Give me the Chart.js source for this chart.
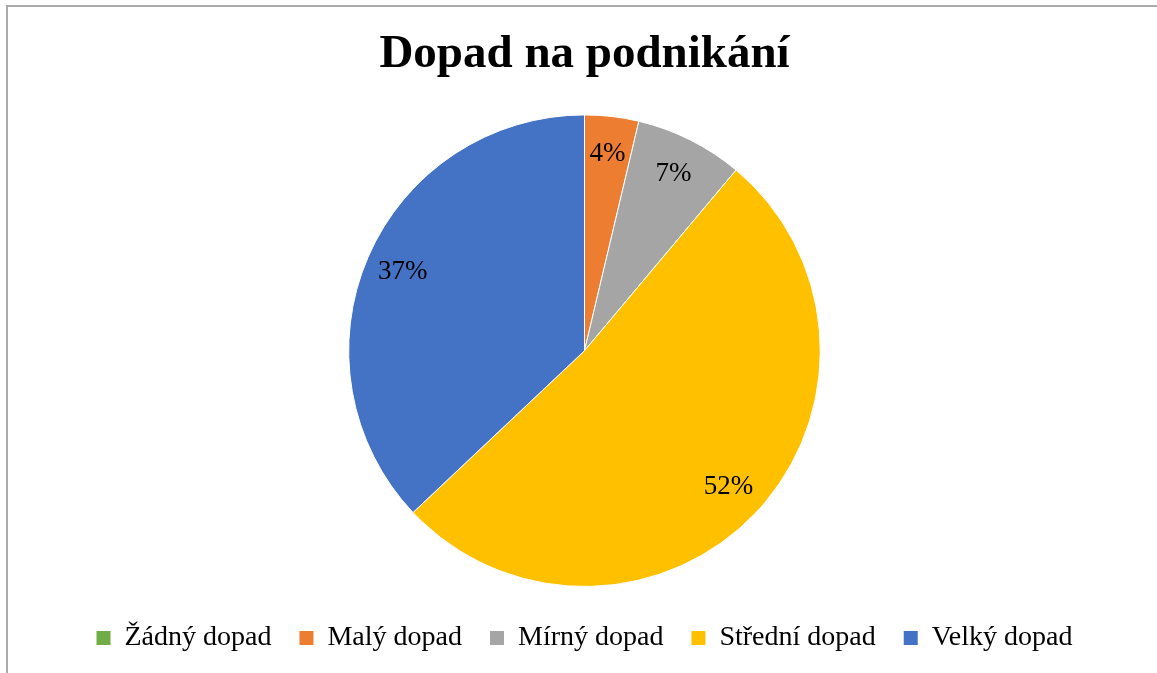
<!DOCTYPE html>
<html>
<head>
<meta charset="utf-8">
<script src="https://cdn.jsdelivr.net/npm/chart.js@4/dist/chart.umd.min.js"></script>
<style>
  body { margin: 0; background: #fff; }
  #frame {
    position: absolute; left: 6px; top: 5px; width: 1200px; height: 700px;
    border-left: 2px solid #ababab; border-top: 2px solid #ababab;
  }
  #chart { position: absolute; left: 0; top: 0; }
</style>
</head>
<body>
<div id="frame"></div>
<canvas id="chart" width="1157" height="673"></canvas>
<script>
// Data
const categories = ["Žádný dopad", "Malý dopad", "Mírný dopad", "Střední dopad", "Velký dopad"];
const counts = [0, 1, 2, 14, 10];
const colors = ["#70AD47", "#ED7D31", "#A5A5A5", "#FFC000", "#4472C4"];

const serif = "'Liberation Serif', 'Times New Roman', serif";

// Percentage labels inside the slices
const pieLabels = {
  id: "pieLabels",
  afterDatasetsDraw(chart) {
    const ctx = chart.ctx;
    const meta = chart.getDatasetMeta(0);
    const values = chart.data.datasets[0].data;
    const total = values.reduce((a, b) => a + b, 0);
    ctx.save();
    ctx.font = "27px " + serif;
    ctx.fillStyle = "#000";
    ctx.textAlign = "center";
    ctx.textBaseline = "middle";
    meta.data.forEach((arc, i) => {
      if (!values[i]) return;
      const p = arc.getProps(["x", "y", "startAngle", "endAngle", "outerRadius"], true);
      const mid = (p.startAngle + p.endAngle) / 2;
      const r = p.outerRadius * 0.84;
      const pct = Math.round((values[i] / total) * 100) + "%";
      ctx.fillText(pct, p.x + Math.cos(mid) * r, p.y + Math.sin(mid) * r);
    });
    ctx.restore();
  }
};

new Chart(document.getElementById("chart"), {
  type: "pie",
  data: {
    labels: categories,
    datasets: [{
      data: counts,
      backgroundColor: colors,
      borderColor: "#fff",
      borderWidth: 1
    }]
  },
  options: {
    responsive: false,
    animation: false,
    layout: { padding: { left: 12, right: 0, top: 0, bottom: 11 } },
    plugins: {
      title: {
        display: true,
        text: "Dopad na podnikání",
        color: "#000",
        font: { family: serif, size: 47, weight: "bold" },
        padding: { top: 27, bottom: 31 }
      },
      legend: {
        position: "bottom",
        title: { display: true, text: "", font: { size: 1, lineHeight: 1 }, padding: { top: 8, bottom: 0 } },
        labels: {
          color: "#000",
          font: { family: serif, size: 28 },
          boxWidth: 14,
          boxHeight: 14,
          padding: 28,
          generateLabels(chart) {
            const items = Chart.controllers.pie.overrides.plugins.legend.labels.generateLabels(chart);
            items.forEach((it) => { it.lineWidth = 0; });
            return items;
          }
        }
      },
      tooltip: { enabled: false }
    }
  },
  plugins: [pieLabels]
});
</script>
</body>
</html>
